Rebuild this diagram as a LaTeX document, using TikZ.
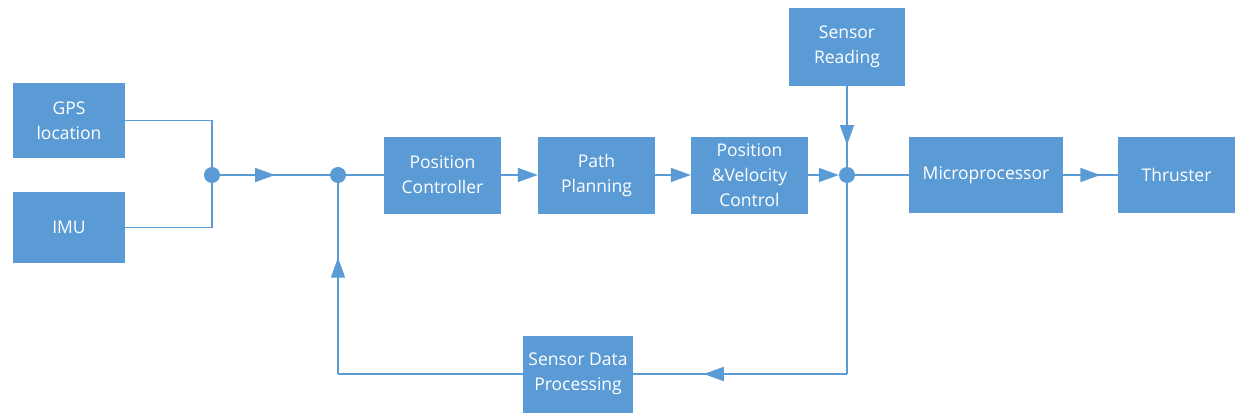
\documentclass[tikz,border=0pt]{standalone}
\usepackage{fontspec}
\setmainfont{Open Sans}
\usetikzlibrary{arrows.meta,decorations.markings}
\definecolor{blk}{RGB}{91,155,213}
\tikzset{
  blockbox/.style={draw=none, fill=blk, text=white, align=center,
    inner sep=0pt, font=\fontsize{17.5}{25}\selectfont},
  junc/.style={circle, fill=blk, minimum size=16pt, inner sep=0pt},
  wire/.style={draw=blk, line width=1.5pt},
  tip/.style={-{Triangle[length=20pt,width=14pt]}},
  midtip/.style={postaction={decorate}, decoration={markings,
    mark=at position #1 with {\arrow{Triangle[length=20pt,width=14pt]}}}},
}
\begin{document}
\begin{tikzpicture}[x=1pt,y=-1pt]
\useasboundingbox (0,0) rectangle (1238,415);
\fill[white] (0,0) rectangle (1238,415);

% blocks
\node[blockbox, minimum width=112pt, minimum height=75pt] (gps) at (69,120.5) {GPS\\location};
\node[blockbox, minimum width=112pt, minimum height=71pt] (imu) at (69,227.5) {IMU};
\node[blockbox, minimum width=117pt, minimum height=77pt] (pc)  at (442.5,175) {Position\\Controller};
\node[blockbox, minimum width=117pt, minimum height=77pt] (pp)  at (596.5,175) {Path\\Planning};
\node[blockbox, minimum width=117pt, minimum height=77pt] (pv)  at (749.5,175) {Position\\\&Velocity\\Control};
\node[blockbox, minimum width=116pt, minimum height=78pt] (sr)  at (847,47) {Sensor\\Reading};
\node[blockbox, minimum width=154pt, minimum height=76pt] (mp)  at (986,175) {Microprocessor};
\node[blockbox, minimum width=117pt, minimum height=76pt] (th)  at (1176.5,175) {Thruster};
\node[blockbox, minimum width=110pt, minimum height=77pt] (sdp) at (578,374) {Sensor Data\\Processing};

% summing junctions
\node[junc] (j1) at (212,175) {};
\node[junc] (j2) at (338,175) {};
\node[junc] (j3) at (847,175) {};

% feedback corners
\coordinate (c1) at (847,374);
\coordinate (c2) at (338,374);

% connectors
\draw[wire] (gps.east) -| (j1);
\draw[wire] (imu.east) -| (j1);
\draw[wire, midtip=0.5] (j1) -- (j2);
\draw[wire] (j2) -- (pc);
\draw[wire, tip] (pc) -- (pp);
\draw[wire, tip] (pp) -- (pv);
\draw[wire, tip] (pv) -- (j3);
\draw[wire, midtip=0.73] (sr) -- (j3);
\draw[wire] (j3) -- (mp);
\draw[wire, midtip=0.68] (mp) -- (th);
\draw[wire] (j3) -- (c1);
\draw[wire, midtip=0.67] (c1) -- (sdp);
\draw[wire] (sdp.west) -- (c2);
\draw[wire, midtip=0.61] (c2) -- (j2);
\end{tikzpicture}
\end{document}
